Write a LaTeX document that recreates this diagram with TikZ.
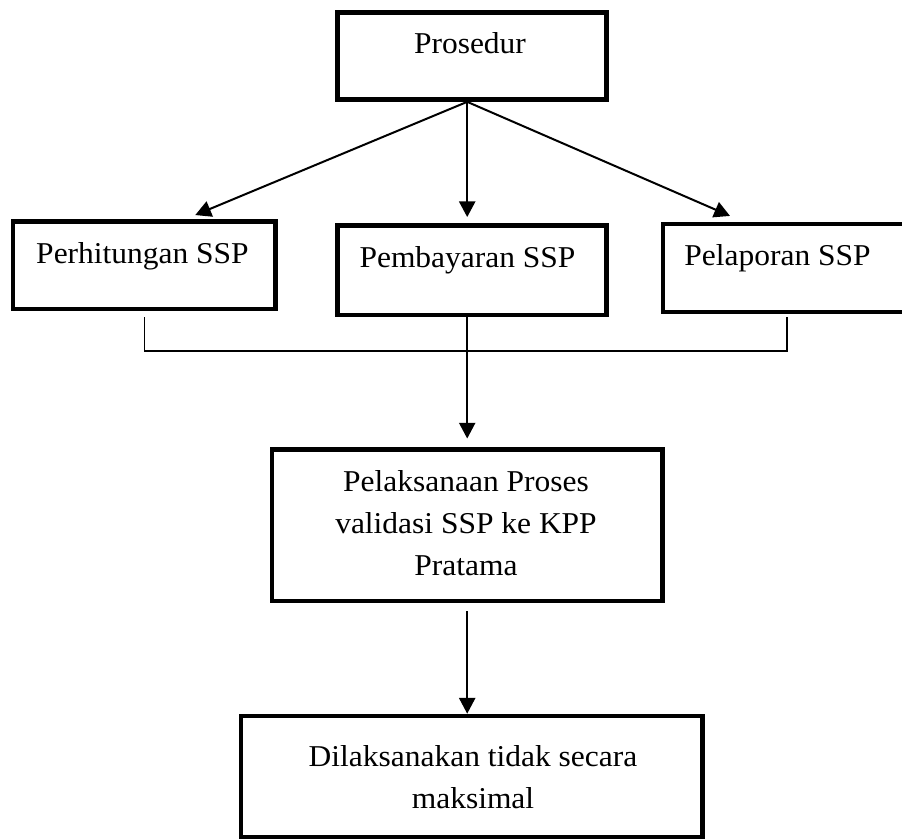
\documentclass[tikz,border=0pt]{standalone}
\usepackage{fontspec}
\setmainfont{Liberation Serif}[FakeStretch=1.04]
\usetikzlibrary{arrows.meta}

\begin{document}
\begin{tikzpicture}[x=0.75pt,y=0.75pt,yscale=-1,xscale=1,
  box/.style={draw,line width=3.5pt,inner sep=0pt},
  txt/.style={inner sep=0pt,align=center,font=\fontsize{22.7pt}{31.5pt}\selectfont},
  arr/.style={-{Triangle[length=11.8pt,width=12.2pt]},line width=1.5pt},
  link/.style={line width=1.1pt}]
%set diagram left start at 0, and has height of 839
\useasboundingbox (0,0) rectangle (902,839);

%Shape: Rectangle
\node [box,minimum width=201.9pt,minimum height=65.25pt] (pro) at (471.8,56) {};
%Shape: Rectangle
\node [box,minimum width=196.9pt,minimum height=65.6pt] (hit) at (144.25,265.25) {};
%Shape: Rectangle
\node [box,minimum width=201.5pt,minimum height=67.1pt] (bay) at (472,270.25) {};
%Shape: Rectangle
\node [box,minimum width=186pt,minimum height=66pt] (lap) at (787,268) {};
%Shape: Rectangle
\node [box,minimum width=292.9pt,minimum height=113.6pt] (val) at (467.2,525.25) {};
%Shape: Rectangle
\node [box,minimum width=346.3pt,minimum height=90.75pt] (max) at (471.7,776.5) {};

%Straight Lines
\draw [arr] (pro.south -| val.north) -- ([xshift=38.25pt,yshift=-3.1pt]hit.north);
%Straight Lines
\draw [arr,shorten >=4.6pt] (pro.south -| val.north) -- (bay.north -| val.north);
%Straight Lines
\draw [arr] (pro.south -| val.north) -- ([xshift=-42.75pt,yshift=-4.3pt]lap.north);
%Straight Lines
\coordinate (join) at (467.2,351);
\draw [link] ([yshift=4.3pt]hit.south) |- (join) -| ([yshift=2pt]lap.south);
%Straight Lines
\draw [arr,link,shorten >=6.5pt] (bay.south -| val.north) -- (val.north);
%Straight Lines
\draw [arr,link] ([yshift=5.8pt]val.south) -- (max.north -| val.south);

% Text Node
\node [txt,anchor=base] (proT) at (470,53) {Prosedur};
% Text Node
\node [txt,anchor=base] (hitT) at (142.5,263) {Perhitungan SSP};
% Text Node
\node [txt,anchor=base] (bayT) at (467.5,267) {Pembayaran SSP};
% Text Node
\node [txt,anchor=base] (lapT) at (777.5,265) {Pelaporan SSP};
% Text Node
\node [txt] (valT) at (466,522.7) {Pelaksanaan Proses\\validasi SSP ke KPP\\Pratama};
% Text Node
\node [txt] (maxT) at (473,777) {Dilaksanakan tidak secara\\maksimal};

\end{tikzpicture}
\end{document}
